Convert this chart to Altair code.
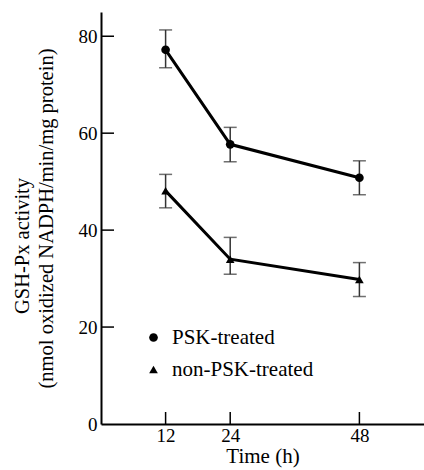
import altair as alt
import pandas as pd

hours = [12, 24, 48]
groups = ["PSK-treated", "non-PSK-treated"]
psk_mean = [77.2, 57.7, 50.8]
psk_lo = [73.5, 54.1, 47.3]
psk_hi = [81.3, 61.2, 54.3]
non_mean = [48.1, 34.0, 29.8]
non_lo = [44.6, 30.9, 26.3]
non_hi = [51.5, 38.5, 33.3]
x_ticks = [12, 24, 48]
y_ticks = [0, 20, 40, 60, 80]
y_title = ["GSH-Px activity", "(nmol oxidized NADPH/min/mg protein)"]

rows = []
for i, h in enumerate(hours):
    rows.append({"h": h, "g": groups[0], "m": psk_mean[i], "lo": psk_lo[i], "hi": psk_hi[i]})
    rows.append({"h": h, "g": groups[1], "m": non_mean[i], "lo": non_lo[i], "hi": non_hi[i]})
df = pd.DataFrame(rows)

FONT = "Liberation Serif"
xs = alt.Scale(domain=[0, 60], nice=False, zero=False)
ys = alt.Scale(domain=[0, 85], nice=False, zero=False)

base = alt.Chart(df)

x_enc = alt.X("h:Q", scale=xs, axis=alt.Axis(
    values=x_ticks, title="Time (h)", tickSize=0, labelPadding=2, titlePadding=0,
    grid=False, domainColor="black", domainWidth=2, labelFontSize=19, titleFontSize=21,
    labelFont=FONT, titleFont=FONT, labelColor="black", titleColor="black",
    titleFontWeight="normal"))
y_enc = alt.Y("m:Q", scale=ys, axis=alt.Axis(
    values=y_ticks, title=y_title[1], tickSize=0, labelPadding=4, titlePadding=22,
    grid=False, domainColor="black", domainWidth=2, labelFontSize=19, titleFontSize=20.5,
    labelFont=FONT, titleFont=FONT, labelColor="black", titleColor="black",
    titleFontWeight="normal"))

lines = base.mark_line(color="black", strokeWidth=3).encode(
    x=x_enc, y=y_enc, detail="g:N")

err = base.mark_rule(color="#333", strokeWidth=1.5).encode(
    x=alt.X("h:Q", scale=xs), y=alt.Y("lo:Q", scale=ys), y2="hi:Q")
cap_lo = base.mark_tick(color="#333", thickness=1.5, size=13, orient="horizontal").encode(
    x=alt.X("h:Q", scale=xs), y=alt.Y("lo:Q", scale=ys))
cap_hi = base.mark_tick(color="#333", thickness=1.5, size=13, orient="horizontal").encode(
    x=alt.X("h:Q", scale=xs), y=alt.Y("hi:Q", scale=ys))

pts = base.mark_point(filled=True, color="black", opacity=1, size=75).encode(
    x=alt.X("h:Q", scale=xs), y=alt.Y("m:Q", scale=ys),
    shape=alt.Shape("g:N", scale=alt.Scale(domain=groups, range=["circle", "triangle-up"]),
                    legend=alt.Legend(title=None, orient="none", legendX=42, legendY=315,
                                      labelFont=FONT, labelFontSize=21, labelColor="black",
                                      symbolFillColor="black", symbolStrokeColor="black",
                                      symbolSize=75, rowPadding=10, labelOffset=8)))

title1 = alt.Chart(pd.DataFrame({"t": [y_title[0]]})).mark_text(
    angle=270, font=FONT, fontSize=20.5, color="black", align="center", baseline="middle"
).encode(text="t:N", x=alt.value(-78), y=alt.value(234))

xt = alt.Chart(pd.DataFrame({"t": x_ticks})).mark_rule(color="black", strokeWidth=1.5).encode(
    x=alt.X("t:Q", scale=xs), y=alt.value(412), y2=alt.value(400))
yt = alt.Chart(pd.DataFrame({"t": y_ticks[1:]})).mark_rule(color="black", strokeWidth=1.5).encode(
    y=alt.Y("t:Q", scale=ys), x=alt.value(0), x2=alt.value(13))

chart = alt.layer(lines, err, cap_lo, cap_hi, pts, xt, yt, title1).properties(
    width=323, height=412,
    padding={"left": 101, "top": 12, "right": 0, "bottom": 46},
    autosize=alt.AutoSizeParams(type="none"),
    background="white"
).configure(font=FONT).configure_view(stroke=None)

chart.save("out.html", embed_options={"renderer": "svg", "actions": False})
